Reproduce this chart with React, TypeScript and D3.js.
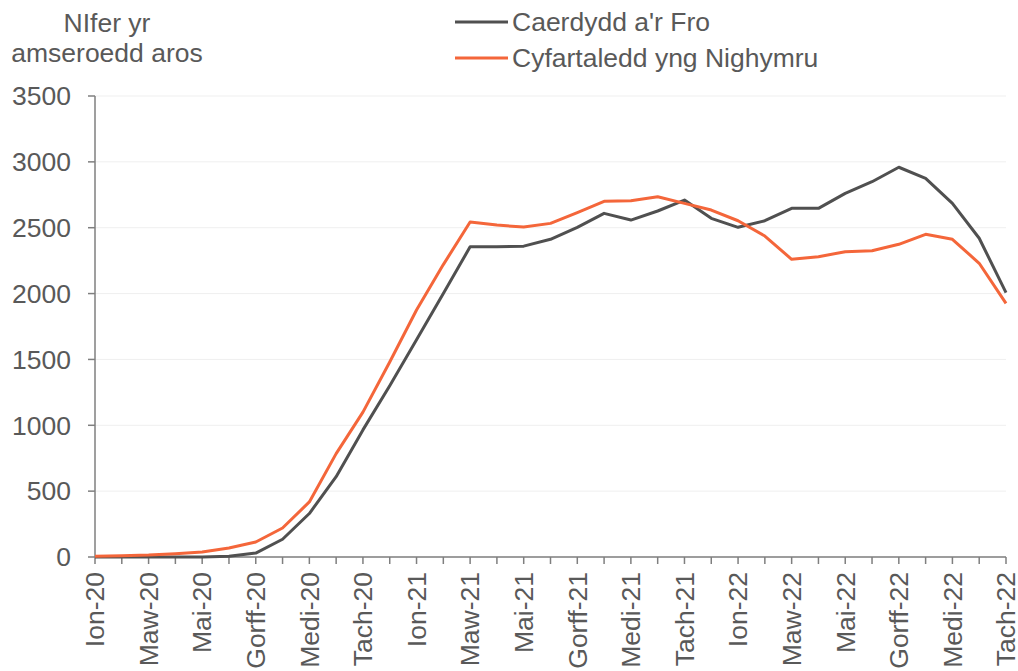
import React from "react";
import * as d3 from "d3";

const months = [
  "Ion-20","Chwef-20","Maw-20","Ebr-20","Mai-20","Meh-20","Gorff-20","Awst-20","Medi-20","Hyd-20","Tach-20","Rhag-20",
  "Ion-21","Chwef-21","Maw-21","Ebr-21","Mai-21","Meh-21","Gorff-21","Awst-21","Medi-21","Hyd-21","Tach-21","Rhag-21",
  "Ion-22","Chwef-22","Maw-22","Ebr-22","Mai-22","Meh-22","Gorff-22","Awst-22","Medi-22","Hyd-22","Tach-22",
];

const caerdydd = [
  0, 0, 0, 0, 0, 5, 30, 135, 330, 610, 965, 1300,
  1650, 2000, 2355, 2355, 2360, 2412, 2503, 2609, 2558, 2627, 2710, 2571,
  2503, 2553, 2647, 2647, 2761, 2849, 2959, 2875, 2685, 2420, 2007,
];

const cymru = [
  5, 10, 15, 25, 38, 68, 114, 220, 418, 785, 1100, 1480,
  1875, 2220, 2543, 2520, 2505, 2533, 2614, 2700, 2705, 2735, 2685, 2634,
  2553, 2437, 2260, 2280, 2318, 2325, 2374, 2450, 2412, 2230, 1926,
];

const yTicks = [0, 500, 1000, 1500, 2000, 2500, 3000, 3500];
const seriesNames = ["Caerdydd a'r Fro", "Cyfartaledd yng Nighymru"];
const colors = ["#505050", "#f4663a"];
const yTitle = ["NIfer yr", "amseroedd aros"];

export default function App() {
  const W = 1018, H = 671;
  const left = 95, right = 1006, top = 96, bottom = 557;
  const x = d3.scalePoint<string>().domain(months).range([left, right]);
  const y = d3.scaleLinear().domain([0, 3500]).range([bottom, top]);
  const line = d3
    .line<number>()
    .x((_, i) => x(months[i]) as number)
    .y((d) => y(d));
  const font = "'Liberation Sans', Arial, sans-serif";
  const textColor = "#595959";
  const fs = 26.5;
  const series = [caerdydd, cymru];

  return (
    <svg
      width={W}
      height={H}
      style={{ position: "absolute", left: 0, top: 0, background: "#fff" }}
      fontFamily={font}
    >
      {yTicks.map((t) => (
        <line key={"g" + t} x1={left} x2={right} y1={y(t)} y2={y(t)} stroke="#efefef" strokeWidth={1} />
      ))}
      <line x1={left} x2={left} y1={top} y2={bottom} stroke="#7f7f7f" strokeWidth={1.5} />
      {yTicks.map((t) => (
        <g key={"yt" + t}>
          <line x1={left - 7} x2={left} y1={y(t)} y2={y(t)} stroke="#7f7f7f" strokeWidth={1.5} />
          <text x={left - 24} y={y(t)} dy="0.35em" textAnchor="end" fontSize={fs} fill={textColor}>
            {t}
          </text>
        </g>
      ))}
      <line x1={left} x2={right} y1={bottom} y2={bottom} stroke="#7f7f7f" strokeWidth={1.5} />
      {months.map((m) => (
        <line
          key={"xt" + m}
          x1={x(m) as number}
          x2={x(m) as number}
          y1={bottom}
          y2={bottom + 7}
          stroke="#7f7f7f"
          strokeWidth={1.5}
        />
      ))}
      {months.map((m, i) =>
        i % 2 === 0 ? (
          <text
            key={"xl" + m}
            transform={`translate(${x(m) as number},${bottom + 15}) rotate(-90)`}
            textAnchor="end"
            dy="0.35em"
            fontSize={fs}
            fill={textColor}
          >
            {m}
          </text>
        ) : null
      )}
      {series.map((s, k) => (
        <path key={"s" + k} d={line(s) || ""} fill="none" stroke={colors[k]} strokeWidth={3} strokeLinejoin="round" />
      ))}
      {yTitle.map((t, i) => (
        <text key={"yl" + i} x={107} y={32 + i * 30} textAnchor="middle" fontSize={fs} fill={textColor}>
          {t}
        </text>
      ))}
      {seriesNames.map((n, i) => (
        <g key={"lg" + i}>
          <line x1={455} x2={508} y1={22 + i * 36} y2={22 + i * 36} stroke={colors[i]} strokeWidth={3} />
          <text x={512} y={22 + i * 36} dy="0.35em" fontSize={fs} fill={textColor}>
            {n}
          </text>
        </g>
      ))}
    </svg>
  );
}
